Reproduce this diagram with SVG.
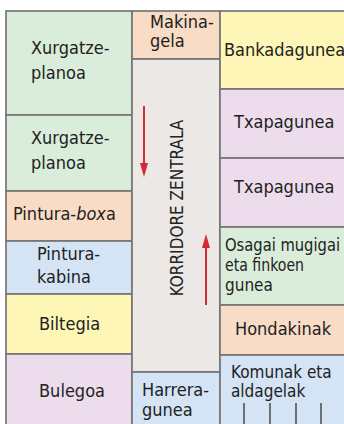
<svg xmlns="http://www.w3.org/2000/svg" width="344" height="424" viewBox="0 0 344 424">
<style>
text{font-family:"DejaVu Sans Condensed","DejaVu Sans",sans-serif;font-stretch:condensed;font-size:18px;fill:#222222}
.c{stroke:#767676;stroke-width:1.7}
.g{fill:#d9edda}.p{fill:#f9dcc5}.b{fill:#d4e4f4}.y{fill:#fdf6b6}.k{fill:#ecdcec}.r{fill:#ebe8e5}
.sm{font-size:17px}
.arr{stroke:#d42a35;stroke-width:2;fill:none}
.head{fill:#d42a35}
</style>
<rect width="344" height="424" fill="#ffffff"/>
<g id="xurgatze1"><rect class="c g" x="6" y="11" width="126" height="104"/><text x="31" y="54">Xurgatze-</text><text x="31" y="79">planoa</text></g>
<g id="xurgatze2"><rect class="c g" x="6" y="115" width="126" height="76"/><text x="31" y="144">Xurgatze-</text><text x="31" y="169">planoa</text></g>
<g id="pinturaboxa"><rect class="c p" x="6" y="191" width="126" height="50"/><text x="13" y="220">Pintura-<tspan font-style="italic">box</tspan>a</text></g>
<g id="pinturakabina"><rect class="c b" x="6" y="241" width="126" height="53"/><text x="37" y="260">Pintura-</text><text x="37" y="283">kabina</text></g>
<g id="biltegia"><rect class="c y" x="6" y="294" width="126" height="60"/><text x="39" y="330">Biltegia</text></g>
<g id="bulegoa"><rect class="c k" x="6" y="354" width="126" height="80"/><text x="39" y="397">Bulegoa</text></g>
<g id="makinagela"><rect class="c p" x="132" y="11" width="88" height="48"/><text x="150" y="28">Makina-</text><text x="150" y="47">gela</text></g>
<g id="korridorea"><rect class="c r" x="132" y="59" width="88" height="313"/><text transform="translate(183,208) rotate(-90)" text-anchor="middle" style="font-size:17px">KORRIDORE ZENTRALA</text></g>
<g id="harreragunea"><rect class="c b" x="132" y="372" width="88" height="62"/><text x="142" y="396">Harrera-</text><text x="142" y="416">gunea</text></g>
<g id="bankadagunea"><rect class="c y" x="220" y="11" width="130" height="78"/><text x="224" y="56">Bankadagunea</text></g>
<g id="txapagunea1"><rect class="c k" x="220" y="89" width="130" height="69"/><text x="234" y="128">Txapagunea</text></g>
<g id="txapagunea2"><rect class="c k" x="220" y="158" width="130" height="69"/><text x="234" y="193">Txapagunea</text></g>
<g id="osagai"><rect class="c g" x="220" y="227" width="130" height="78"/><text class="sm" x="225" y="251" textLength="115" lengthAdjust="spacingAndGlyphs">Osagai mugigai</text><text class="sm" x="225" y="271" textLength="79" lengthAdjust="spacingAndGlyphs">eta finkoen</text><text class="sm" x="225" y="291">gunea</text></g>
<g id="hondakinak"><rect class="c p" x="220" y="305" width="130" height="50"/><text x="235" y="335">Hondakinak</text></g>
<g id="komunak"><rect class="c b" x="220" y="355" width="130" height="79"/><text class="sm" x="231" y="378">Komunak eta</text><text class="sm" x="231" y="397">aldagelak</text>
<path d="M244 403V424M270 403V424M296 403V424M321 403V424" stroke="#4a4a4a" stroke-width="1.5"/></g>
<g id="connectors">
<path class="arr" d="M144 106V165"/><path class="head" d="M140 163L148 163L144 177Z"/>
<path class="arr" d="M206 246V305"/><path class="head" d="M202 248L210 248L206 234Z"/>
</g>
</svg>
